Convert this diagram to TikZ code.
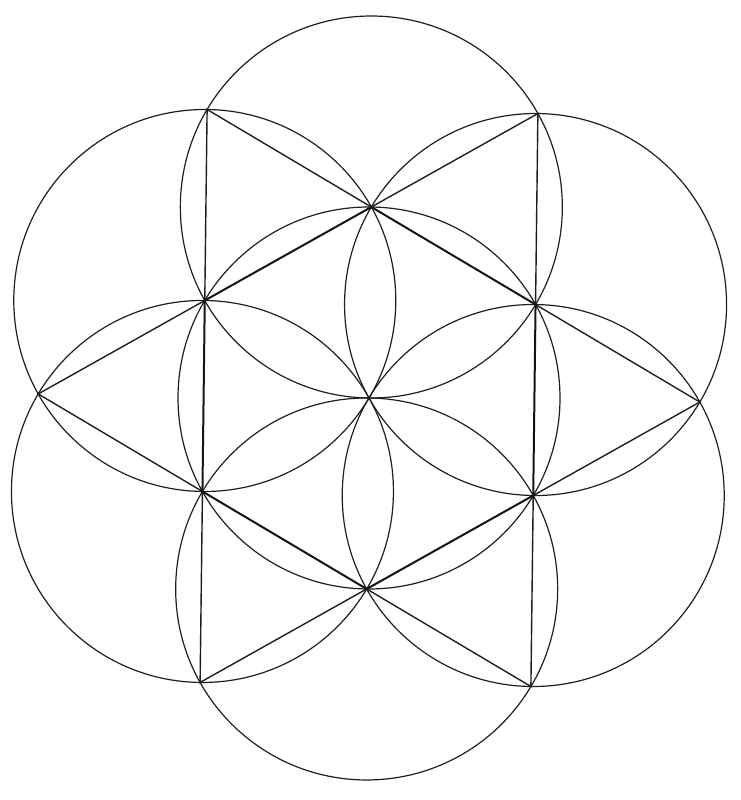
\documentclass[tikz,border=0pt]{standalone}
\usetikzlibrary{calc}
\begin{document}
\begin{tikzpicture}[x=1pt,y=1pt,
  ring/.style={draw=black!88,line width=1.2pt},
  tri/.style={draw=black!88,line width=1.4pt},
  hexline/.style={draw=black!92,line width=2pt,line join=miter}]
\useasboundingbox (0,0) rectangle (741,800);
\fill[white] (0,0) rectangle (741,800);
\def\R{191}
\def\rot{-0.7}
\coordinate (C) at (369,402);
\foreach \k in {1,...,6}{
  \coordinate (H\k) at ($(C)+({90+(\k-1)*60+\rot}:\R)$);
  \coordinate (O\k) at ($(C)+({120+(\k-1)*60+\rot}:{\R*1.7320508})$);
}
% seven circles
\draw[ring] (C) circle (\R);
\foreach \k in {1,...,6}{ \draw[ring] (H\k) circle (\R); }
% outer triangles
\foreach \k/\n in {1/2,2/3,3/4,4/5,5/6,6/1}{
  \draw[tri] (H\k) -- (O\k) -- (H\n);
}
% inner hexagon
\draw[hexline] (H1) -- (H2) -- (H3) -- (H4) -- (H5) -- (H6) -- cycle;
\end{tikzpicture}
\end{document}
